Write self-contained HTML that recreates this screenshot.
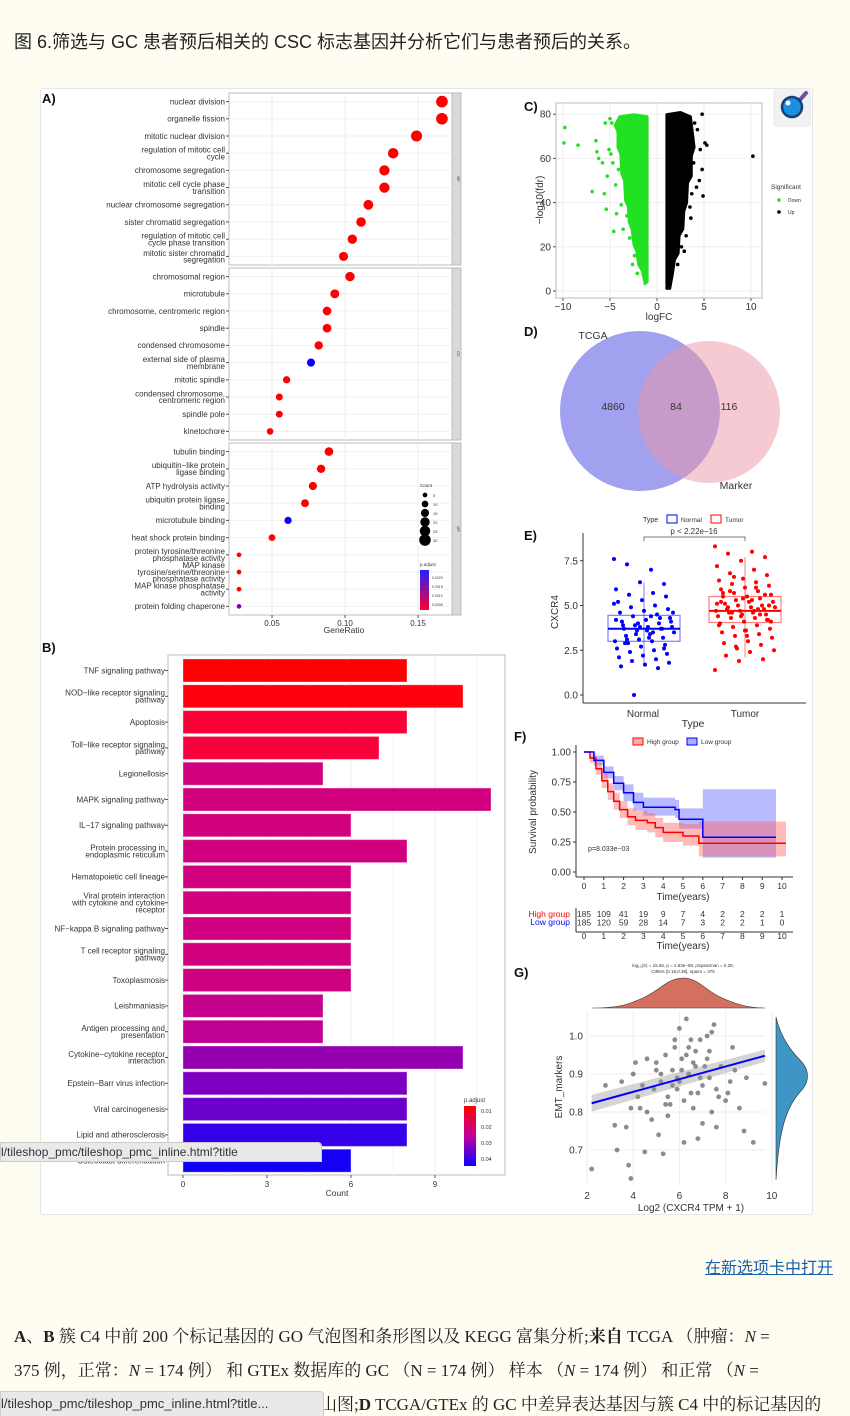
<!DOCTYPE html>
<html><head><meta charset="utf-8"><style>
html,body{margin:0;padding:0;background:#fffdf1;}
#page{position:relative;width:850px;height:1416px;overflow:hidden;background:#fffdf1;font-family:"Liberation Sans","Noto Sans CJK SC",sans-serif;}
.title{position:absolute;left:14px;top:28px;font-size:18px;color:#222;white-space:nowrap;}
#fig{position:absolute;left:40px;top:88px;width:771px;height:1125px;background:#fff;border:1px solid #e6e6e6;border-radius:3px;}
svg{position:absolute;left:0;top:0;}
.link{position:absolute;left:705px;top:1254px;font-size:16px;color:#1a5fa8;text-decoration:underline;white-space:nowrap;}
.cap{position:absolute;left:14px;font-family:"Liberation Serif","Noto Serif CJK SC",serif;font-size:17px;color:#222;white-space:nowrap;}
.tip{position:absolute;left:0;background:#e9e9ea;border:1px solid #ccc;color:#333;font-size:13px;white-space:nowrap;padding:2px 4px 2px 0;border-radius:0 4px 0 0;}
</style></head><body>
<div id="page">
<div class="title">图 6.筛选与 GC 患者预后相关的 CSC 标志基因并分析它们与患者预后的关系。</div>
<div id="fig"></div>
<svg id="chart" width="850" height="1416" font-family="Liberation Sans, sans-serif"></svg>
<div class="link">在新选项卡中打开</div>
<div class="cap" style="top:1322px"><b>A</b>、<b>B</b> 簇 C4 中前 200 个标记基因的 GO 气泡图和条形图以及 KEGG 富集分析;<b>来自</b> TCGA （肿瘤：<i>N</i> =</div>
<div class="cap" style="top:1356px">375 例，正常：<i>N</i> = 174 例） 和 GTEx 数据库的 GC （N = 174 例） 样本 （<i>N</i> = 174 例） 和正常 （<i>N</i> =</div>
<div class="cap" style="top:1390px;left:320px">山图;<b>D</b> TCGA/GTEx 的 GC 中差异表达基因与簇 C4 中的标记基因的</div>
<div class="tip" style="top:1142px;height:14px;font-size:12px;line-height:14px;width:316px">l/tileshop_pmc/tileshop_pmc_inline.html?title</div>
<div class="tip" style="top:1391px;height:20px;line-height:20px;width:318px">l/tileshop_pmc/tileshop_pmc_inline.html?title...</div>
</div>
<script>
// ===== Panel A data =====
const bpTerms=["nuclear division","organelle fission","mitotic nuclear division","regulation of mitotic cell|cycle","chromosome segregation","mitotic cell cycle phase|transition","nuclear chromosome segregation","sister chromatid segregation","regulation of mitotic cell|cycle phase transition","mitotic sister chromatid|segregation"];
const bpRatio=[0.1664,0.1664,0.149,0.133,0.127,0.127,0.116,0.111,0.105,0.099];
const bpCount=[31,31,28,25,24,24,22,21,20,19];
const bpP=[0.0003,0.0003,0.0003,0.0003,0.0003,0.0003,0.0003,0.0003,0.0003,0.0003];
const ccTerms=["chromosomal region","microtubule","chromosome, centromeric region","spindle","condensed chromosome","external side of plasma|membrane","mitotic spindle","condensed chromosome,|centromeric region","spindle pole","kinetochore"];
const ccRatio=[0.1034,0.093,0.0877,0.0877,0.082,0.0767,0.060,0.055,0.055,0.0487];
const ccCount=[20,18,17,17,16,15,12,11,11,10];
const ccP=[0.0003,0.0003,0.0003,0.0003,0.0003,0.0024,0.0003,0.0003,0.0003,0.0003];
const mfTerms=["tubulin binding","ubiquitin−like protein|ligase binding","ATP hydrolysis activity","ubiquitin protein ligase|binding","microtubule binding","heat shock protein binding","protein tyrosine/threonine|phosphatase activity","MAP kinase|tyrosine/serine/threonine|phosphatase activity","MAP kinase phosphatase|activity","protein folding chaperone"];
const mfRatio=[0.089,0.0836,0.078,0.0726,0.061,0.050,0.0274,0.0274,0.0274,0.0274];
const mfCount=[17,16,15,14,12,10,5,5,5,5];
const mfP=[0.0003,0.0003,0.0003,0.0003,0.0024,0.0003,0.0003,0.0003,0.0003,0.0017];
const aTicks=[0.05,0.10,0.15];
// ===== Panel B data =====
const keggTerms=["TNF signaling pathway","NOD−like receptor signaling|pathway","Apoptosis","Toll−like receptor signaling|pathway","Legionellosis","MAPK signaling pathway","IL−17 signaling pathway","Protein processing in|endoplasmic reticulum","Hematopoietic cell lineage","Viral protein interaction|with cytokine and cytokine|receptor","NF−kappa B signaling pathway","T cell receptor signaling|pathway","Toxoplasmosis","Leishmaniasis","Antigen processing and|presentation","Cytokine−cytokine receptor|interaction","Epstein−Barr virus infection","Viral carcinogenesis","Lipid and atherosclerosis","Osteoclast differentiation"];
const keggCount=[8,10,8,7,5,11,6,8,6,6,6,6,6,5,5,10,8,8,8,6];
const keggP=[0.005,0.0055,0.0085,0.009,0.018,0.018,0.018,0.018,0.018,0.018,0.018,0.018,0.0185,0.02,0.021,0.027,0.03,0.032,0.038,0.041];
const bTicks=[0,3,6,9];
// ===== Panel C data =====
const downCloud=[[-1,4],[-1.3,3],[-1.6,9],[-2.0,12],[-2.2,18],[-2.5,21],[-2.7,28],[-3.0,31],[-3.1,38],[-3.4,41],[-3.5,50],[-3.8,53],[-3.9,62],[-4.2,65],[-4.2,72],[-4.5,75],[-4,79],[-2.5,80],[-1,79]];
const upCloud=[[1,1],[1.4,1],[1.7,8],[1.9,14],[2.3,17],[2.4,25],[2.8,28],[2.9,36],[3.2,40],[3.3,49],[3.7,52],[3.7,61],[4.0,65],[3.8,72],[3.6,79],[2.5,81],[1,80]];
const downPts=[[-9.8,74],[-9.9,67],[-8.4,66],[-6.9,45],[-6.5,68],[-6.4,63],[-6.2,60],[-5.8,58],[-5.5,76],[-5.3,52],[-5.6,44],[-5.4,37],[-5.1,64],[-4.9,62],[-4.6,27],[-4.3,35],[-4.8,76],[-5,78],[-4.1,55],[-4.4,48],[-3.8,39],[-3.6,28],[-3.4,57],[-2.6,12],[-3.9,69],[-4.7,58],[-3.2,34],[-2.9,24],[-2.4,16],[-2.1,8]];
const upPts=[[10.2,61],[4.8,80],[5.3,66],[5.1,67],[4.8,55],[4.9,43],[4.6,64],[3.6,33],[4.5,50],[4.2,47],[3.9,58],[3.7,44],[4.3,73],[3.1,25],[2.9,18],[4.0,76],[3.5,38],[2.6,20],[2.2,12]];
const cXTicks=[-10,-5,0,5,10];
const cYTicks=[0,20,40,60,80];
// ===== Panel D data =====
const vennCounts=[4860,84,116];
// ===== Panel E data =====
const normalBox=[1.6,3.0,3.7,4.45,6.3];
const tumorBox=[2.1,4.05,4.7,5.5,7.7];
const normalVals=[7.6,7.0,7.3,6.2,6.3,5.9,5.7,5.6,5.5,5.3,5.2,5.0,4.9,4.8,4.7,4.6,4.5,4.4,4.3,4.2,4.1,4.0,3.9,3.8,3.8,3.7,3.7,3.6,3.5,3.4,3.3,3.2,3.1,3.0,3.0,2.9,2.8,2.7,2.6,2.5,2.4,2.3,2.2,2.1,2.0,1.9,1.8,1.7,1.6,1.5,0.0,4.1,3.6,3.9,4.3,3.4,4.6,3.2,2.9,3.7,4.0,5.1,4.4,3.1,2.6,3.8,4.2,3.5];
const tumorVals=[8.3,8.0,7.9,7.7,7.5,7.2,7.0,6.8,6.7,6.5,6.4,6.3,6.2,6.1,6.0,5.9,5.8,5.7,5.6,5.5,5.5,5.4,5.3,5.2,5.2,5.1,5.0,5.0,4.9,4.9,4.8,4.8,4.7,4.7,4.6,4.6,4.5,4.5,4.4,4.3,4.3,4.2,4.1,4.0,3.9,3.8,3.7,3.6,3.5,3.4,3.3,3.2,3.0,2.9,2.8,2.6,2.5,2.4,2.2,2.0,1.9,1.4,5.3,4.9,5.6,4.4,5.1,4.7,5.8,4.2,5.4,3.9,6.0,4.6,5.0,3.6,5.2,4.8,6.6,4.1,3.3,5.7,4.5,2.7];
const eTicks=[0,2.5,5,7.5];
// ===== Panel F data =====
const highT=[0,0.3,0.6,0.9,1.2,1.5,1.8,2.2,2.6,3.2,3.6,4.0,5.0,5.8,10.2];
const highS=[1,0.95,0.86,0.76,0.67,0.59,0.52,0.46,0.43,0.41,0.37,0.33,0.30,0.24,0.24];
const highLo=[1,0.91,0.81,0.70,0.60,0.52,0.45,0.39,0.35,0.33,0.29,0.25,0.22,0.13,0.13];
const highHi=[1,0.99,0.91,0.82,0.74,0.66,0.59,0.53,0.51,0.49,0.45,0.41,0.40,0.42,0.42];
const lowT=[0,0.5,1.0,1.5,2.0,2.5,3.0,4.6,4.8,6.0,9.7];
const lowS=[1,0.93,0.83,0.74,0.66,0.58,0.54,0.52,0.44,0.29,0.29];
const lowLo=[1,0.89,0.78,0.68,0.59,0.51,0.47,0.45,0.36,0.12,0.12];
const lowHi=[1,0.97,0.88,0.80,0.73,0.66,0.62,0.60,0.53,0.69,0.69];
const riskHigh=[185,109,41,19,9,7,4,2,2,2,1];
const riskLow=[185,120,59,28,14,7,3,2,2,1,0];
const fYTicks=[0,0.25,0.5,0.75,1.0];
const fXTicks=[0,1,2,3,4,5,6,7,8,9,10];
// ===== Panel G data =====
const gx=[2.2,2.8,3.2,3.3,3.7,3.9,3.8,4.0,4.2,4.4,4.5,4.6,4.8,5.0,5.1,5.2,5.3,5.4,5.5,5.6,5.7,5.8,5.9,6.0,6.1,6.2,6.3,6.4,6.5,6.6,6.7,6.8,6.9,7.0,7.1,7.2,7.3,7.4,7.5,7.6,7.8,8.0,8.2,8.4,8.6,8.9,9.2,9.7,4.1,4.9,5.5,6.0,6.4,6.8,7.2,7.6,5.2,5.8,6.2,6.6,7.0,7.4,3.5,4.3,5.0,5.7,6.3,6.9,7.7,8.3,4.6,5.4,6.1,6.5,7.3,8.1,3.9,8.8,5.9,6.7];
const gy=[0.65,0.87,0.765,0.70,0.76,0.625,0.66,0.90,0.84,0.87,0.695,0.80,0.78,0.93,0.74,0.88,0.69,0.95,0.84,0.82,0.91,0.97,0.86,0.88,0.94,0.72,1.045,0.90,0.85,0.81,0.96,0.73,0.99,0.87,0.92,1.0,0.89,0.80,1.03,0.76,0.92,0.83,0.88,0.91,0.81,0.89,0.72,0.875,0.93,0.86,0.79,1.02,0.97,0.85,0.94,0.86,0.90,0.99,0.83,0.93,0.77,1.01,0.88,0.81,0.91,0.87,0.95,0.89,0.84,0.97,0.94,0.82,0.91,0.99,0.96,0.85,0.81,0.75,0.89,0.92];
const gXTicks=[2,4,6,8,10];
const gYTicks=[0.7,0.8,0.9,1.0];
const gFit=[[2.2,0.823],[9.7,0.948]];

// ===== helpers =====
const svg=document.getElementById('chart');
const NS='http://www.w3.org/2000/svg';
function el(tag,attrs,parent){const e=document.createElementNS(NS,tag);for(const k in attrs)e.setAttribute(k,attrs[k]);(parent||svg).appendChild(e);return e;}
function txt(x,y,s,attrs,parent){const t=el('text',Object.assign({x:x,y:y,'font-size':8,fill:'#333'},attrs||{}),parent);t.textContent=s;return t;}
function mlabel(x,yc,s,fs,name,parent){const lines=s.split('|');const lh=fs*0.85;const y0=yc-(lines.length-1)*lh/2+fs*0.35;lines.forEach((l,i)=>{const t=txt(x,y0+i*lh,l,{'font-size':fs,'text-anchor':'end',fill:'#333'},parent);});}
function pcol(t){t=Math.max(0,Math.min(1,t));return 'rgb('+Math.round(255*(1-Math.pow(t,1.6)))+',0,'+Math.round(255*Math.pow(t,0.65))+')';}
function acol(p){return pcol((p-0.0003)/0.0021*0.97);}

// ===== Panel A =====
const gA=el('g',{});
txt(42,103,'A)',{'font-size':13,'font-weight':'bold',fill:'#111'},gA);
const aX=r=>272+(r-0.05)*1460;
const facets=[[bpTerms,bpRatio,bpCount,bpP,93,265,'BP'],[ccTerms,ccRatio,ccCount,ccP,268,440,'CC'],[mfTerms,mfRatio,mfCount,mfP,443,615,'MF']];
facets.forEach(([terms,ratio,count,p,y0,y1,lab])=>{
  const r=el('rect',{x:229,y:y0,width:223,height:y1-y0,fill:'#fff',stroke:'#bbb','stroke-width':1},gA);
  const st=el('rect',{x:452,y:y0,width:9,height:y1-y0,fill:'#d9d9d9',stroke:'#bbb'},gA);
  txt(457,(y0+y1)/2,lab,{'font-size':4,'text-anchor':'middle',transform:'rotate(90 457 '+((y0+y1)/2)+')'},gA);
  aTicks.forEach(t=>{el('line',{x1:aX(t),x2:aX(t),y1:y0,y2:y1,stroke:'#eee'},gA);});
  const step=(y1-y0)/terms.length;
  terms.forEach((term,i)=>{
    const yc=y0+step*(i+0.5);
    el('line',{x1:229,x2:452,y1:yc,y2:yc,stroke:'#f0f0f0'},gA);
    el('line',{x1:226,x2:229,y1:yc,y2:yc,stroke:'#555'},gA);
    mlabel(225,yc,term,8,'go-term-label',gA);
    const c=el('circle',{cx:aX(ratio[i]),cy:yc,r:Math.sqrt(count[i])*1.05,fill:acol(p[i])},gA);
    
  });
});
aTicks.forEach(t=>{el('line',{x1:aX(t),x2:aX(t),y1:615,y2:618,stroke:'#555'},gA);const l=txt(aX(t),626,t.toFixed(2),{'font-size':8,'text-anchor':'middle'},gA);});
txt(344,633,'GeneRatio',{'font-size':8.5,'text-anchor':'middle'},gA);
txt(420,487,'Count',{'font-size':4.5},gA);
[5,10,15,20,25,30].forEach((c,i)=>{el('circle',{cx:425,cy:495+i*9,r:Math.sqrt(c)*1.05,fill:'#000'},gA);txt(433,497+i*9,String(c),{'font-size':4},gA);});
txt(420,566,'p.adjust',{'font-size':4.5},gA);
const grdA=el('linearGradient',{id:'gA',x1:0,y1:0,x2:0,y2:1},el('defs',{},gA));
el('stop',{offset:'0','stop-color':'#2020ff'},grdA);el('stop',{offset:'1','stop-color':'#ff0030'},grdA);
el('rect',{x:420,y:570,width:9,height:40,fill:'url(#gA)'},gA);
['0.0020','0.0015','0.0010','0.0005'].forEach((s,i)=>txt(432,579+i*9,s,{'font-size':3.5},gA));

// ===== Panel B =====
const gB=el('g',{});
txt(42,652,'B)',{'font-size':13,'font-weight':'bold',fill:'#111'},gB);
const bX=v=>183+v*28;
el('rect',{x:168,y:655,width:337,height:520,fill:'#fff',stroke:'#bbb'},gB);
bTicks.forEach(t=>{el('line',{x1:bX(t),x2:bX(t),y1:655,y2:1175,stroke:'#eee'},gB);});
[1.5,4.5,7.5,10.5].forEach(t=>{el('line',{x1:bX(t),x2:bX(t),y1:655,y2:1175,stroke:'#f6f6f6'},gB);});
const bStep=25.8;
keggTerms.forEach((term,i)=>{
  const yc=670.5+i*bStep;
  el('line',{x1:165,x2:168,y1:yc,y2:yc,stroke:'#555'},gB);
  mlabel(165,yc,term,8,'kegg-term-label',gB);
  const r=el('rect',{x:bX(0),y:yc-11.5,width:bX(keggCount[i])-bX(0),height:23,fill:pcol((keggP[i]-0.005)/0.038),stroke:'rgba(255,255,255,0.35)'},gB);
  
});
bTicks.forEach(t=>{el('line',{x1:bX(t),x2:bX(t),y1:1175,y2:1178,stroke:'#555'},gB);const l=txt(bX(t),1187,String(t),{'font-size':8,'text-anchor':'middle'},gB);});
txt(337,1196,'Count',{'font-size':8.5,'text-anchor':'middle'},gB);
txt(464,1102,'p.adjust',{'font-size':6},gB);
const grdB=el('linearGradient',{id:'gB',x1:0,y1:0,x2:0,y2:1},el('defs',{},gB));
el('stop',{offset:'0','stop-color':'#ff0000'},grdB);el('stop',{offset:'0.5','stop-color':'#c0009a'},grdB);el('stop',{offset:'1','stop-color':'#1000ff'},grdB);
el('rect',{x:464,y:1106,width:12,height:60,fill:'url(#gB)'},gB);
['0.01','0.02','0.03','0.04'].forEach((s,i)=>txt(481,1113+i*16,s,{'font-size':5.5},gB));

// ===== Panel C =====
const gC=el('g',{});
const cX=v=>657+v*9.4, cY=v=>291-v*2.21;
txt(524,111,'C)',{'font-size':13,'font-weight':'bold',fill:'#111'},gC);
el('rect',{x:556,y:103,width:206,height:195,fill:'#fff',stroke:'#bbb'},gC);
cXTicks.forEach(t=>{el('line',{x1:cX(t),x2:cX(t),y1:103,y2:298,stroke:'#eee'},gC);el('line',{x1:cX(t),x2:cX(t),y1:298,y2:301,stroke:'#555'},gC);const l=txt(cX(t),310,String(t).replace('-','−'),{'font-size':10,'text-anchor':'middle'},gC);});
cYTicks.forEach(t=>{el('line',{x1:556,x2:762,y1:cY(t),y2:cY(t),stroke:'#eee'},gC);el('line',{x1:553,x2:556,y1:cY(t),y2:cY(t),stroke:'#555'},gC);const l=txt(551,cY(t)+3.5,String(t),{'font-size':10,'text-anchor':'end'},gC);});
const dc=el('polygon',{points:downCloud.map(p=>cX(p[0])+','+cY(p[1])).join(' '),fill:'#22e022',stroke:'#22e022','stroke-width':2,'stroke-linejoin':'round'},gC);
const uc=el('polygon',{points:upCloud.map(p=>cX(p[0])+','+cY(p[1])).join(' '),fill:'#000',stroke:'#000','stroke-width':2,'stroke-linejoin':'round'},gC);
downPts.forEach(p=>{const c=el('circle',{cx:cX(p[0]),cy:cY(p[1]),r:1.8,fill:'#22e022'},gC);});
upPts.forEach(p=>{const c=el('circle',{cx:cX(p[0]),cy:cY(p[1]),r:1.8,fill:'#000'},gC);});
txt(659,320,'logFC',{'font-size':10,'text-anchor':'middle'},gC);
txt(543,200,'−log10(fdr)',{'font-size':10,'text-anchor':'middle',transform:'rotate(-90 543 200)'},gC);
txt(771,189,'Significant',{'font-size':6.5},gC);
el('circle',{cx:779,cy:200,r:1.8,fill:'#22e022'},gC);txt(788,202,'Down',{'font-size':5},gC);
el('circle',{cx:779,cy:212,r:1.8,fill:'#000'},gC);txt(788,214,'Up',{'font-size':5},gC);
const mg=el('g',{},gC);
el('rect',{x:773,y:89,width:38,height:38,fill:'#f1f1f1',rx:3},mg);
el('line',{x1:798,y1:102,x2:806,y2:93,stroke:'#6a52a0','stroke-width':4,'stroke-linecap':'round'},mg);
el('circle',{cx:792,cy:107,r:10,fill:'#1c8fe0',stroke:'#1a3f7a','stroke-width':2.5},mg);
el('circle',{cx:788,cy:103,r:2.5,fill:'#fff'},mg);

// ===== Panel D =====
const gD=el('g',{});
txt(524,336,'D)',{'font-size':13,'font-weight':'bold',fill:'#111'},gD);
const c1=el('circle',{cx:640,cy:411,r:80,fill:'rgba(110,110,230,0.65)'},gD);
const c2=el('circle',{cx:709,cy:412,r:71,fill:'rgba(235,150,165,0.5)'},gD);
txt(593,339,'TCGA',{'font-size':10.5,'text-anchor':'middle'},gD);
txt(736,489,'Marker',{'font-size':10.5,'text-anchor':'middle'},gD);
[[613,vennCounts[0]],[676,vennCounts[1]],[729,vennCounts[2]]].forEach(([x,v])=>{const t=txt(x,410,String(v),{'font-size':10.5,'text-anchor':'middle'},gD);});

// ===== Panel E =====
const gE=el('g',{});
const eY=v=>695-v*17.9;
txt(524,540,'E)',{'font-size':13,'font-weight':'bold',fill:'#111'},gE);
el('line',{x1:583,x2:583,y1:533,y2:703,stroke:'#333'},gE);
el('line',{x1:583,x2:806,y1:703,y2:703,stroke:'#333'},gE);
eTicks.forEach(t=>{el('line',{x1:580,x2:583,y1:eY(t),y2:eY(t),stroke:'#333'},gE);const l=txt(578,eY(t)+3.5,t.toFixed(1),{'font-size':10,'text-anchor':'end'},gE);});
function box(cx,b,col,vals,nm){
  el('line',{x1:cx,x2:cx,y1:eY(b[0]),y2:eY(b[4]),stroke:col,'stroke-opacity':0.5},gE);
  el('rect',{x:cx-36,y:eY(b[3]),width:72,height:eY(b[1])-eY(b[3]),fill:'none',stroke:col,'stroke-opacity':0.5,'stroke-width':1.2},gE);
  el('line',{x1:cx-36,x2:cx+36,y1:eY(b[2]),y2:eY(b[2]),stroke:col,'stroke-width':2},gE);
  vals.forEach((v,i)=>{const off=((i*37)%61-30)*1.0;const c=el('circle',{cx:cx+off,cy:eY(v),r:2,fill:col},gE);});
}
box(644,normalBox,'#0000ff',normalVals,'normal-point');
box(745,tumorBox,'#ff0000',tumorVals,'tumor-point');
el('polyline',{points:'644,541 644,537 745,537 745,541',fill:'none',stroke:'#777'},gE);
txt(694,534,'p < 2.22e−16',{'font-size':8,'text-anchor':'middle'},gE);
txt(643,717,'Normal',{'font-size':10,'text-anchor':'middle'},gE);
txt(745,717,'Tumor',{'font-size':10,'text-anchor':'middle'},gE);
txt(693,727,'Type',{'font-size':10.5,'text-anchor':'middle'},gE);
txt(558,612,'CXCR4',{'font-size':10,'text-anchor':'middle',transform:'rotate(-90 558 612)'},gE);
txt(643,522,'Type',{'font-size':7},gE);
el('rect',{x:667,y:515,width:10,height:8,fill:'none',stroke:'#00f'},gE);txt(681,522,'Normal',{'font-size':6.5},gE);
el('rect',{x:711,y:515,width:10,height:8,fill:'none',stroke:'#f00'},gE);txt(725,522,'Tumor',{'font-size':6.5},gE);

// ===== Panel F =====
const gF=el('g',{});
const fX=v=>584+v*19.8, fY=v=>872-v*120;
txt(514,741,'F)',{'font-size':13,'font-weight':'bold',fill:'#111'},gF);
el('line',{x1:576,x2:576,y1:745,y2:877,stroke:'#333'},gF);
el('line',{x1:576,x2:793,y1:877,y2:877,stroke:'#333'},gF);
fYTicks.forEach(t=>{el('line',{x1:573,x2:576,y1:fY(t),y2:fY(t),stroke:'#333'},gF);const l=txt(571,fY(t)+3.5,t.toFixed(2),{'font-size':10,'text-anchor':'end'},gF);});
fXTicks.forEach(t=>{el('line',{x1:fX(t),x2:fX(t),y1:877,y2:880,stroke:'#333'},gF);txt(fX(t),889,String(t),{'font-size':8.5,'text-anchor':'middle'},gF);});
txt(683,900,'Time(years)',{'font-size':10,'text-anchor':'middle'},gF);
txt(536,812,'Survival probability',{'font-size':10,'text-anchor':'middle',transform:'rotate(-90 536 812)'},gF);
function stepPts(T,S){let p=[];for(let i=0;i<T.length;i++){if(i>0)p.push([fX(T[i]),fY(S[i-1])]);p.push([fX(T[i]),fY(S[i])]);}return p;}
function band(T,lo,hi,col,nm){const up=stepPts(T,hi),dn=stepPts(T,lo).reverse();const b=el('polygon',{points:up.concat(dn).map(p=>p.join(',')).join(' '),fill:col},gF);}
band(lowT,lowLo,lowHi,'rgba(90,90,255,0.42)','low-group-ci');
band(highT,highLo,highHi,'rgba(255,90,90,0.42)','high-group-ci');
const hl=el('polyline',{points:stepPts(highT,highS).map(p=>p.join(',')).join(' '),fill:'none',stroke:'#ff0000','stroke-width':1.5},gF);
const ll=el('polyline',{points:stepPts(lowT,lowS).map(p=>p.join(',')).join(' '),fill:'none',stroke:'#0000ff','stroke-width':1.5},gF);
txt(588,851,'p=8.033e−03',{'font-size':7},gF);
el('rect',{x:633,y:738,width:10,height:7,fill:'rgba(255,90,90,0.5)',stroke:'#f00'},gF);txt(647,744,'High group',{'font-size':6.5},gF);
el('rect',{x:687,y:738,width:10,height:7,fill:'rgba(90,90,255,0.5)',stroke:'#00f'},gF);txt(701,744,'Low group',{'font-size':6.5},gF);
txt(570,917,'High group',{'font-size':8.5,'text-anchor':'end',fill:'#ff0000'},gF);
txt(570,925,'Low group',{'font-size':8.5,'text-anchor':'end',fill:'#0000ff'},gF);
el('line',{x1:576,x2:576,y1:908,y2:932,stroke:'#333'},gF);
el('line',{x1:576,x2:793,y1:932,y2:932,stroke:'#333'},gF);
riskHigh.forEach((v,i)=>{const t=txt(fX(fXTicks[i]),917,String(v),{'font-size':8.5,'text-anchor':'middle'},gF);});
riskLow.forEach((v,i)=>{const t=txt(fX(fXTicks[i]),925.5,String(v),{'font-size':8.5,'text-anchor':'middle'},gF);});
fXTicks.forEach(t=>txt(fX(t),939,String(t),{'font-size':8.5,'text-anchor':'middle'},gF));
txt(683,949,'Time(years)',{'font-size':10,'text-anchor':'middle'},gF);

// ===== Panel G =====
const gG=el('g',{});
const gXs=v=>587+(v-2)*23.1, gYs=v=>1036-(v-1.0)*380;
txt(514,977,'G)',{'font-size':13,'font-weight':'bold',fill:'#111'},gG);
txt(683,967,'log₁₀(S) = 15.66, p = 2.83e−08, ρSpearman = 0.28,',{'font-size':4.5,'text-anchor':'middle'},gG);
txt(683,973,'CI95% [0.18,0.38], npairs = 375',{'font-size':4.5,'text-anchor':'middle'},gG);
const td=el('path',{d:'M592,1008 C620,1008 630,1004 645,997 C660,990 668,978 683,978 C698,978 705,990 720,997 C735,1004 748,1008 765,1008 Z',fill:'#d3705f',stroke:'#333','stroke-width':0.6},gG);
const rd=el('path',{d:'M776,1017 C779,1030 785,1045 800,1060 C810,1070 810,1082 800,1092 C786,1108 779,1130 776,1180 Z',fill:'#3f95c6',stroke:'#333','stroke-width':0.6},gG);
gXTicks.forEach(t=>{el('line',{x1:gXs(t),x2:gXs(t),y1:1012,y2:1186,stroke:'#eee'},gG);const l=txt(gXs(t),1199,String(t),{'font-size':10,'text-anchor':'middle'},gG);});
gYTicks.forEach(t=>{el('line',{x1:590,x2:765,y1:gYs(t),y2:gYs(t),stroke:'#eee'},gG);const l=txt(583,gYs(t)+3.5,t.toFixed(1),{'font-size':10,'text-anchor':'end'},gG);});
gx.forEach((x,i)=>{const c=el('circle',{cx:gXs(x),cy:gYs(gy[i]),r:2.4,fill:'rgba(0,0,0,0.45)'},gG);});
const [f0,f1]=gFit;
el('polygon',{points:[gXs(f0[0])+','+gYs(f0[1]+0.022),gXs(f1[0])+','+gYs(f1[1]+0.016),gXs(f1[0])+','+gYs(f1[1]-0.016),gXs(f0[0])+','+gYs(f0[1]-0.022)].join(' '),fill:'rgba(150,150,150,0.4)'},gG);
const fl=el('line',{x1:gXs(f0[0]),y1:gYs(f0[1]),x2:gXs(f1[0]),y2:gYs(f1[1]),stroke:'#0000ff','stroke-width':2},gG);
txt(691,1211,'Log2 (CXCR4 TPM + 1)',{'font-size':10,'text-anchor':'middle'},gG);
txt(562,1087,'EMT_markers',{'font-size':10,'text-anchor':'middle',transform:'rotate(-90 562 1087)'},gG);
</script>
</body></html>
